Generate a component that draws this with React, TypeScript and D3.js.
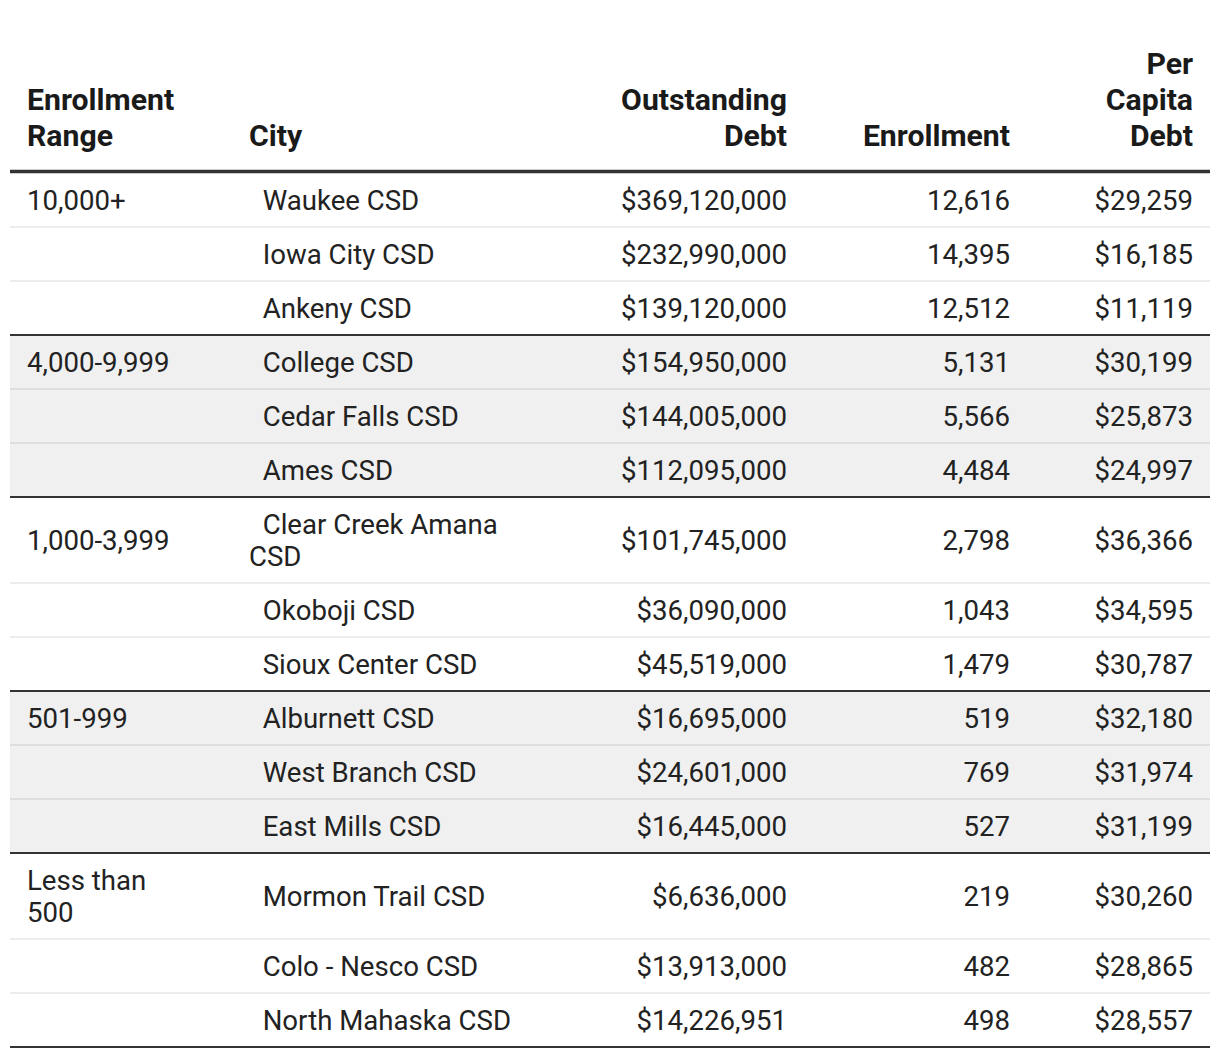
import React from "react";
import * as d3 from "d3";

const headers = ["Enrollment Range", "City", "Outstanding Debt", "Enrollment", "Per Capita Debt"];
const ranges = ["10,000+", "4,000-9,999", "1,000-3,999", "501-999", "Less than 500"];
const rowGroup = [0, 0, 0, 1, 1, 1, 2, 2, 2, 3, 3, 3, 4, 4, 4];
const cities = [
  "  Waukee CSD", "  Iowa City CSD", "  Ankeny CSD",
  "  College CSD", "  Cedar Falls CSD", "  Ames CSD",
  "  Clear Creek Amana CSD", "  Okoboji CSD", "  Sioux Center CSD",
  "  Alburnett CSD", "  West Branch CSD", "  East Mills CSD",
  "  Mormon Trail CSD", "  Colo - Nesco CSD", "  North Mahaska CSD",
];
const debts = [
  369120000, 232990000, 139120000,
  154950000, 144005000, 112095000,
  101745000, 36090000, 45519000,
  16695000, 24601000, 16445000,
  6636000, 13913000, 14226951,
];
const enrollments = [
  12616, 14395, 12512,
  5131, 5566, 4484,
  2798, 1043, 1479,
  519, 769, 527,
  219, 482, 498,
];
const perCapita = [
  29259, 16185, 11119,
  30199, 25873, 24997,
  36366, 34595, 30787,
  32180, 31974, 31199,
  30260, 28865, 28557,
];

const FS = 27.6;
const HFS = 30.2;
const FONT = "Roboto, 'Noto Sans', sans-serif";
const TEXT = "#222";

let ctx: CanvasRenderingContext2D | null = null;
function measure(t: string, bold: boolean) {
  if (!ctx) ctx = document.createElement("canvas").getContext("2d");
  ctx!.font = `${bold ? "bold " : ""}${bold ? HFS : FS}px Roboto`;
  return ctx!.measureText(t).width;
}
function wrap(t: string, maxW: number, bold: boolean): string[] {
  const words = t.split(" ");
  const lines: string[] = [];
  let cur = words[0];
  for (let i = 1; i < words.length; i++) {
    const cand = cur + " " + words[i];
    if (measure(cand, bold) <= maxW || cur.trim() === "") cur = cand;
    else {
      lines.push(cur);
      cur = words[i];
    }
  }
  lines.push(cur);
  return lines;
}

const cols = [
  { x: 27, anchor: "start", w: 160 },
  { x: 249, anchor: "start", w: 290 },
  { x: 787, anchor: "end", w: 185 },
  { x: 1010, anchor: "end", w: 200 },
  { x: 1193, anchor: "end", w: 118 },
];

const fmtMoney = d3.format("$,");
const fmtInt = d3.format(",");

export default function App() {
  const W = 1220, H = 1058;
  const left = 10, right = 1210;
  const headerBase = 146;
  const headerLH = 36;
  const headerLineY = 171.5;
  const bodyTop = 173;
  const LH = 32;

  const rows = cities.map((c, i) => {
    const first = i === 0 || rowGroup[i - 1] !== rowGroup[i];
    const cells = [
      first ? wrap(ranges[rowGroup[i]], cols[0].w, false) : [""],
      wrap(c, cols[1].w, false),
      [fmtMoney(debts[i])],
      [fmtInt(enrollments[i])],
      [fmtMoney(perCapita[i])],
    ];
    const n = d3.max(cells, (l) => l.length)!;
    return { i, cells, h: 22 + n * LH, group: rowGroup[i], last: i === cities.length - 1 || rowGroup[i + 1] !== rowGroup[i] };
  });
  const tops: number[] = [];
  let y = bodyTop;
  rows.forEach((r) => {
    tops.push(y);
    y += r.h;
  });

  return (
    <svg width={W} height={H} style={{ position: "absolute", left: 0, top: 0, background: "#fff" }}
      fontFamily={FONT} fontSize={FS} fill={TEXT}>
      <rect x={0} y={0} width={W} height={H} fill="#fff" />
      {rows.map((r, k) =>
        r.group % 2 === 1 ? (
          <rect key={"bg" + k} x={left} y={tops[k]} width={right - left} height={r.h} fill="#f0f0f0" />
        ) : null
      )}
      {headers.map((h, j) => {
        const lines = wrap(h, cols[j].w, true);
        return (
          <text key={"h" + j} fontWeight="bold" fontSize={HFS} fill="#1a1a1a" textAnchor={cols[j].anchor as any}>
            {lines.map((l, m) => (
              <tspan key={m} x={cols[j].x} y={headerBase - (lines.length - 1 - m) * headerLH}>{l}</tspan>
            ))}
          </text>
        );
      })}
      {rows.map((r, k) => {
        const cy = tops[k] + r.h / 2;
        return (
          <g key={"r" + k}>
            {r.cells.map((lines, j) => (
              <text key={j} textAnchor={cols[j].anchor as any} style={{ whiteSpace: "pre" }}>
                {lines.map((l, m) => (
                  <tspan key={m} x={cols[j].x} y={cy + (m - (lines.length - 1) / 2) * LH + FS * 0.34 + 1}>{l}</tspan>
                ))}
              </text>
            ))}
          </g>
        );
      })}
      {rows.map((r, k) => {
        const yb = tops[k] + r.h;
        return r.last ? (
          <line key={"l" + k} x1={left} x2={right} y1={yb} y2={yb} stroke="#333" strokeWidth={2} />
        ) : (
          <line key={"l" + k} x1={left} x2={right} y1={yb} y2={yb} stroke="#000" strokeOpacity={0.075} strokeWidth={2} />
        );
      })}
      <line x1={left} x2={right} y1={headerLineY} y2={headerLineY} stroke="#333" strokeWidth={3.5} />
    </svg>
  );
}
